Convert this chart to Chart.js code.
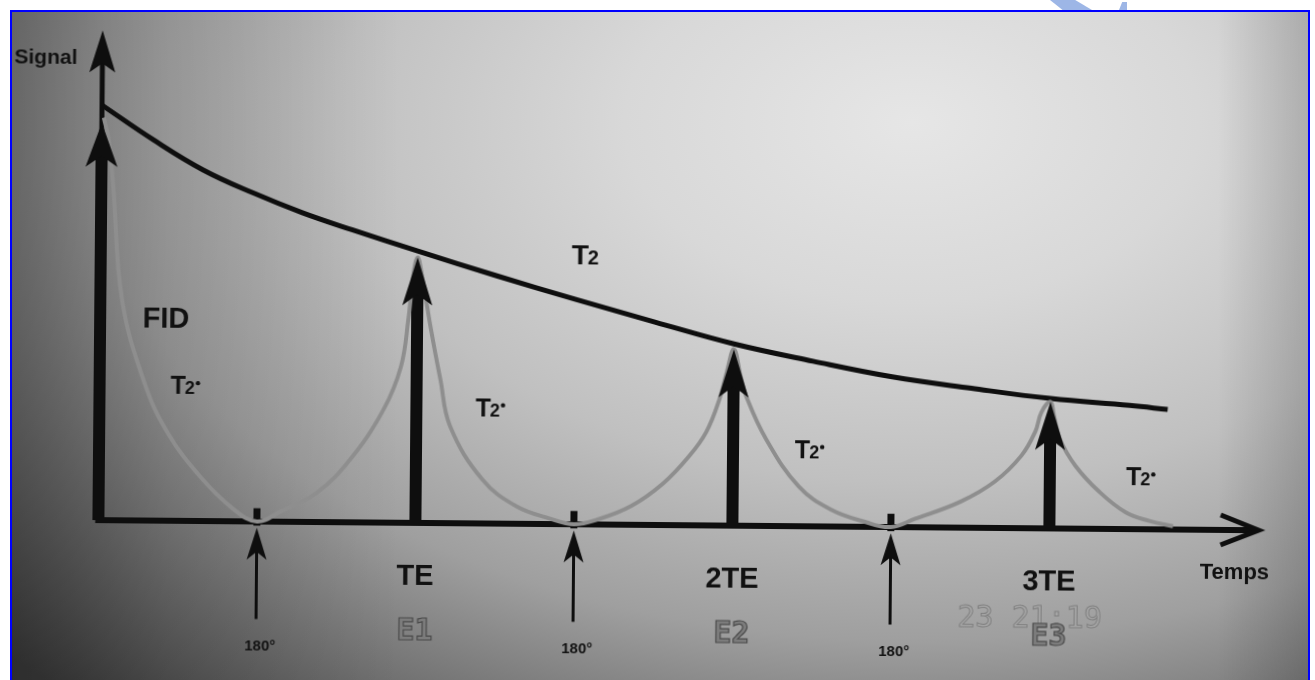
<!DOCTYPE html>
<html><head><meta charset="utf-8">
<script src="https://cdn.jsdelivr.net/npm/chart.js@4.4.1/dist/chart.umd.min.js"></script>
<style>
html,body{margin:0;padding:0;background:#fff;width:1315px;height:680px;overflow:hidden;position:relative}
#frame{position:absolute;left:10px;top:10px;width:1296px;height:690px;border:2px solid #0000ff;
  background:
   linear-gradient(to right, rgba(0,0,0,0.28) 0%, rgba(0,0,0,0.12) 12%, rgba(0,0,0,0) 30%),
   linear-gradient(to right, rgba(0,0,0,0) 93%, rgba(0,0,0,0.16) 100%),
   radial-gradient(ellipse 1150px 720px at 900px 110px, #e6e6e6 0%, #d8d8d8 25%, #c0c0c0 50%, #9f9f9f 72%, #707070 90%, #404040 108%);}
.wm{position:absolute;background:#9db6e6}
#wrap{position:absolute;left:0;top:0;width:1315px;height:680px;transform:rotate(0.5deg);transform-origin:657px 340px}
canvas{display:block}
</style></head>
<body>
<div id="frame"></div>
<div class="wm" style="left:1050px;top:0;width:42px;height:10px;clip-path:polygon(0 0,60% 0,100% 100%,30% 100%)"></div>
<div class="wm" style="left:1119px;top:2px;width:8px;height:8px;clip-path:polygon(40% 0,100% 0,100% 100%,0 100%)"></div>
<div id="wrap"><canvas id="c" width="1315" height="680"></canvas></div>
<script>
// ---------- data ----------
// time in units of TE, signal normalised to initial magnetisation
const t2Time   = [0, 0.164, 0.321, 0.478, 0.635, 0.792, 1, 1.25, 1.5, 1.75, 2, 2.25, 2.5, 2.75, 3, 3.25, 3.37];
const t2Signal = [1.0, 0.917, 0.846, 0.792, 0.745, 0.705, 0.655, 0.597, 0.542, 0.489, 0.438, 0.398, 0.362, 0.336, 0.313, 0.298, 0.289];

const t2sTime   = [0.006, 0.022, 0.038, 0.069, 0.142, 0.217, 0.321, 0.425, 0.5,
                   0.575, 0.689, 0.792, 0.896, 0.95, 0.972, 0.987, 1.0,
                   1.013, 1.044, 1.075, 1.107, 1.21, 1.318, 1.425, 1.5,
                   1.575, 1.68, 1.78, 1.86, 1.915, 1.956, 1.978, 2.0,
                   2.022, 2.04, 2.104, 2.208, 2.31, 2.418, 2.5,
                   2.575, 2.72, 2.827, 2.91, 2.953, 2.972, 3.0,
                   3.012, 3.03, 3.08, 3.157, 3.239, 3.315, 3.39];
const t2sSignal = [0.97, 0.916, 0.802, 0.53, 0.331, 0.211, 0.106, 0.03, 0.0,
                   0.025, 0.071, 0.151, 0.272, 0.376, 0.489, 0.6, 0.64,
                   0.6, 0.466, 0.346, 0.233, 0.106, 0.042, 0.013, 0.0,
                   0.012, 0.045, 0.1, 0.165, 0.225, 0.305, 0.37, 0.425,
                   0.36, 0.312, 0.209, 0.096, 0.041, 0.012, 0.0,
                   0.02, 0.063, 0.112, 0.175, 0.233, 0.28, 0.305,
                   0.27, 0.217, 0.152, 0.089, 0.041, 0.02, 0.008];

const echoTimes   = [0, 1, 2, 3];
const echoHeights = [0.957, 0.64, 0.425, 0.305];
const echoLabels  = ['', 'TE', '2TE', '3TE'];
const echoNames   = ['', 'E1', 'E2', 'E3'];
const pulseTimes  = [0.5, 1.5, 2.5];
const pulseLabel  = '180°';
const yAxisTop    = 1.18;
const xAxisEnd    = 3.66;
const yAxisTitle  = 'Signal';
const xAxisTitle  = 'Temps';
const stampText   = '23 21:19';

// ---------- chart ----------
const X_MIN = -100 / 317, X_MAX = X_MIN + 1315 / 317;
const Y_MIN = -(680 - 525) / 415, Y_MAX = 525 / 415;
const BLACK = '#0e0e0e', GRAY = '#8e8e8e';
const HEAD_CUT = 0.075, PULSE_BOTTOM = -0.235, PULSE_TIP = -0.015;

const pts = (xs, ys) => xs.map((x, i) => ({x, y: ys[i]}));
const datasets = [];
datasets.push({data: pts(t2sTime, t2sSignal), borderColor: GRAY, borderWidth: 4, tension: 0.4});
datasets.push({data: [{x:0,y:0},{x:0,y:yAxisTop - 0.05}], borderColor: BLACK, borderWidth: 5});
datasets.push({data: [{x:-0.01,y:0},{x:xAxisEnd - 0.01,y:0}], borderColor: BLACK, borderWidth: 6});
echoTimes.forEach((t, i) => datasets.push({data: [{x:t,y:0},{x:t,y:echoHeights[i] - HEAD_CUT}], borderColor: BLACK, borderWidth: 12, borderCapStyle:'butt'}));
pulseTimes.forEach(t => {
  datasets.push({data: [{x:t,y:PULSE_BOTTOM},{x:t,y:PULSE_TIP - 0.03}], borderColor: BLACK, borderWidth: 3});
  datasets.push({data: [{x:t,y:-0.01},{x:t,y:0.032}], borderColor: BLACK, borderWidth: 7});
});
datasets.push({data: pts(t2Time, t2Signal), borderColor: BLACK, borderWidth: 5, tension: 0.4, borderCapStyle:'butt'});

function head(ctx, x, y, w, h, notch) {
  ctx.beginPath();
  ctx.moveTo(x, y);
  ctx.lineTo(x + w / 2, y + h);
  ctx.lineTo(x, y + h - notch);
  ctx.lineTo(x - w / 2, y + h);
  ctx.closePath();
  ctx.fill();
}
function tLabel(ctx, x, y, big, small, star) {
  ctx.save();
  ctx.font = 'bold ' + big + 'px "Liberation Sans", Arial, sans-serif';
  const wT = ctx.measureText('T').width;
  ctx.font = 'bold ' + small + 'px "Liberation Sans", Arial, sans-serif';
  const w2 = ctx.measureText('2').width;
  const wS = star ? small * 0.35 : 0;
  let x0 = x - (wT + w2 + wS) / 2;
  ctx.textAlign = 'left'; ctx.textBaseline = 'alphabetic';
  const base = y + big * 0.36;
  ctx.font = 'bold ' + big + 'px "Liberation Sans", Arial, sans-serif';
  ctx.fillText('T', x0, base);
  ctx.font = 'bold ' + small + 'px "Liberation Sans", Arial, sans-serif';
  ctx.fillText('2', x0 + wT - 1, base);
  if (star) {
    ctx.beginPath();
    ctx.arc(x0 + wT + w2 + 2, base - small * 0.62, 2.2, 0, Math.PI * 2);
    ctx.fill();
  }
  ctx.restore();
}

const annot = {
  id: 'annot',
  afterDatasetsDraw(chart) {
    const ctx = chart.ctx, xs = chart.scales.x, ys = chart.scales.y;
    const X = v => xs.getPixelForValue(v), Y = v => ys.getPixelForValue(v);
    ctx.save();
    ctx.fillStyle = BLACK; ctx.strokeStyle = BLACK;
    head(ctx, X(0), Y(yAxisTop), 26, 42, 9);
    echoTimes.forEach((t, i) => head(ctx, X(t), Y(echoHeights[i]), i === 0 ? 32 : 30, i === 0 ? 44 : 48, 11));
    pulseTimes.forEach(t => head(ctx, X(t), Y(PULSE_TIP), 20, 32, 8));
    const xe = X(xAxisEnd), y0 = Y(0);
    ctx.lineWidth = 5; ctx.lineJoin = 'miter'; ctx.lineCap = 'butt';
    ctx.beginPath(); ctx.moveTo(xe - 38, y0 - 15); ctx.lineTo(xe, y0); ctx.lineTo(xe - 38, y0 + 15); ctx.stroke();

    const F = (s, w) => (w || 'bold') + ' ' + s + 'px "Liberation Sans", Arial, sans-serif';
    ctx.fillStyle = '#111';
    ctx.textBaseline = 'middle';
    ctx.textAlign = 'left';
    ctx.font = F(21); ctx.fillText(yAxisTitle, 12, Y(1.113));
    ctx.textAlign = 'center';
    ctx.font = F(22); ctx.fillText(xAxisTitle, X(3.585), Y(-0.103));
    ctx.font = F(29); ctx.fillText('FID', X(0.208), Y(0.485));
    echoLabels.forEach((s, i) => { if (s) { ctx.font = F(29); ctx.fillText(s, X(echoTimes[i]), Y(-0.13)); } });
    pulseTimes.forEach(t => { ctx.font = F(15); ctx.fillText(pulseLabel, X(t) + 4, Y(-0.3)); });
    tLabel(ctx, X(1.53), Y(0.65), 28, 20, false);
    [[0.274, 0.327], [1.237, 0.28], [2.245, 0.186], [3.29, 0.127]].forEach(p => tLabel(ctx, X(p[0]), Y(p[1]), 25, 18, true));

    ctx.textAlign = 'center'; ctx.textBaseline = 'middle';
    ctx.font = '30px "DejaVu Sans Mono", monospace';
    ctx.fillStyle = 'rgba(165,165,165,0.9)'; ctx.strokeStyle = 'rgba(120,120,120,0.85)'; ctx.lineWidth = 1;
    ctx.fillText(stampText, X(2.94), Y(-0.22));
    ctx.strokeText(stampText, X(2.94), Y(-0.22));
    echoNames.forEach((s, i) => {
      if (!s) return;
      ctx.font = 'bold 30px "DejaVu Sans Mono", monospace';
      ctx.fillStyle = '#7c7c7c'; ctx.strokeStyle = '#4a4a4a'; ctx.lineWidth = 1.2;
      ctx.fillText(s, X(echoTimes[i]), Y(-0.262));
      ctx.strokeText(s, X(echoTimes[i]), Y(-0.262));
    });
    ctx.restore();
  }
};

new Chart(document.getElementById('c'), {
  type: 'line',
  data: {datasets},
  options: {
    responsive: false, animation: false, events: [],
    layout: {padding: 0},
    plugins: {legend: {display: false}, tooltip: {enabled: false}},
    elements: {point: {radius: 0}, line: {tension: 0, borderJoinStyle: 'round'}},
    scales: {
      x: {type: 'linear', min: X_MIN, max: X_MAX, display: false},
      y: {type: 'linear', min: Y_MIN, max: Y_MAX, display: false}
    },
    datasets: {line: {clip: false, fill: false, pointRadius: 0}}
  },
  plugins: [annot]
});
</script>
</body></html>
